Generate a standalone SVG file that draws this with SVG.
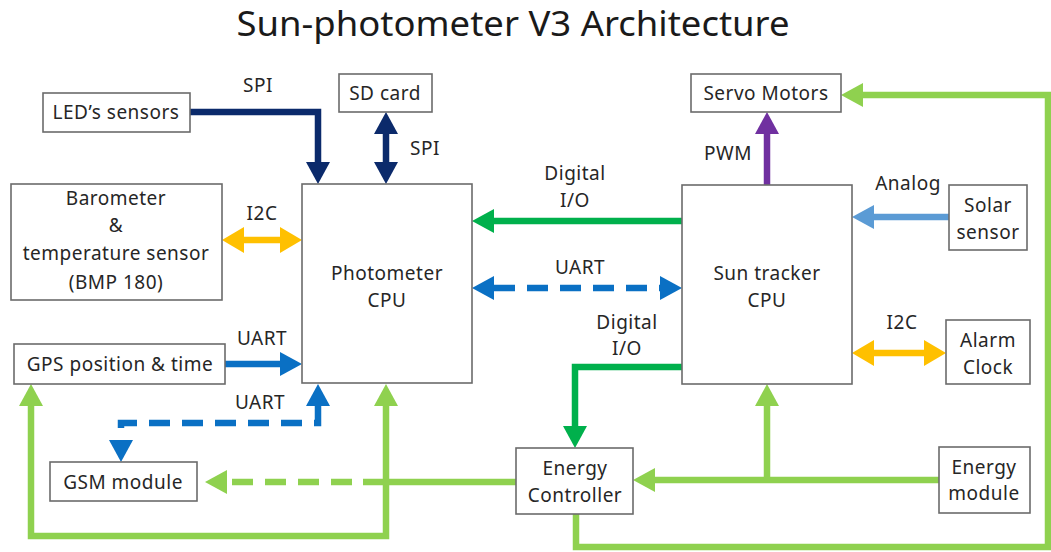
<svg xmlns="http://www.w3.org/2000/svg" width="1051" height="552" viewBox="0 0 1051 552">
  <style>
    .box { fill: #ffffff; stroke: #6b6b6b; stroke-width: 1.6; }
    .t { font-family: "Noto Sans", "Open Sans", sans-serif; font-size: 19px; letter-spacing: 0.5px; fill: #262626; text-anchor: middle; }
    .title { font-family: "Noto Sans", "Open Sans", sans-serif; font-size: 34px; fill: #1a1a1a; text-anchor: middle; }
    .w { fill: none; stroke-width: 6.5; stroke-linejoin: miter; }
    .navy { stroke: #0b2a6b; }
    .blue { stroke: #0a70c4; }
    .gold { stroke: #ffc000; }
    .green { stroke: #00b04c; }
    .lime { stroke: #8fd14f; }
    .purple { stroke: #7030a0; }
    .sky { stroke: #5b9bd5; }
    .dash { stroke-dasharray: 21 12; }
  </style>
  <defs>
    <marker id="aNavy" markerUnits="userSpaceOnUse" markerWidth="24" markerHeight="24" viewBox="0 0 22 24" refX="0" refY="12" orient="auto-start-reverse"><path d="M0,0 L22,12 L0,24 z" fill="#0b2a6b"/></marker>
    <marker id="aBlue" markerUnits="userSpaceOnUse" markerWidth="24" markerHeight="24" viewBox="0 0 22 24" refX="0" refY="12" orient="auto-start-reverse"><path d="M0,0 L22,12 L0,24 z" fill="#0a70c4"/></marker>
    <marker id="aGold" markerUnits="userSpaceOnUse" markerWidth="24" markerHeight="26" viewBox="0 0 22 26" refX="0" refY="13" orient="auto-start-reverse"><path d="M0,0 L22,13 L0,26 z" fill="#ffc000"/></marker>
    <marker id="aGreen" markerUnits="userSpaceOnUse" markerWidth="24" markerHeight="24" viewBox="0 0 22 24" refX="0" refY="12" orient="auto-start-reverse"><path d="M0,0 L22,12 L0,24 z" fill="#00b04c"/></marker>
    <marker id="aLime" markerUnits="userSpaceOnUse" markerWidth="24" markerHeight="24" viewBox="0 0 22 24" refX="0" refY="12" orient="auto-start-reverse"><path d="M0,0 L22,12 L0,24 z" fill="#8fd14f"/></marker>
    <marker id="aPurple" markerUnits="userSpaceOnUse" markerWidth="24" markerHeight="24" viewBox="0 0 22 24" refX="0" refY="12" orient="auto-start-reverse"><path d="M0,0 L22,12 L0,24 z" fill="#7030a0"/></marker>
    <marker id="aSky" markerUnits="userSpaceOnUse" markerWidth="24" markerHeight="24" viewBox="0 0 22 24" refX="0" refY="12" orient="auto-start-reverse"><path d="M0,0 L22,12 L0,24 z" fill="#5b9bd5"/></marker>
  </defs>

  <rect width="1051" height="552" fill="#ffffff"/>

  <text class="title" x="513" y="36" textLength="553" lengthAdjust="spacingAndGlyphs">Sun-photometer V3 Architecture</text>

  <!-- connectors -->
  <g id="connectors">
    <!-- power distribution (light green) -->
    <path class="w lime" d="M576,514 V547 H1048 V95 H863" marker-end="url(#aLime)"/>
    <path class="w lime" d="M31,406 V536 H386 V406" marker-start="url(#aLime)" marker-end="url(#aLime)"/>
    <path class="w lime" d="M939,480 H655" marker-end="url(#aLime)"/>
    <path class="w lime" d="M767,480 V406" marker-end="url(#aLime)"/>
    <path class="w lime" d="M516,482 H363"/>
    <path class="w lime dash" d="M352,482 H227" marker-end="url(#aLime)"/>

    <!-- SPI buses -->
    <path class="w navy" d="M190,112 H318 V162" marker-end="url(#aNavy)"/>
    <path class="w navy" d="M386,134 V162" marker-start="url(#aNavy)" marker-end="url(#aNavy)"/>

    <!-- I2C buses -->
    <path class="w gold" d="M244,240 H280" marker-start="url(#aGold)" marker-end="url(#aGold)"/>
    <path class="w gold" d="M874,353 H924" marker-start="url(#aGold)" marker-end="url(#aGold)"/>

    <!-- digital I/O -->
    <path class="w green" d="M682,221 H494" marker-end="url(#aGreen)"/>
    <path class="w green" d="M682,367 H575 V426" marker-end="url(#aGreen)"/>

    <!-- UART links -->
    <path class="w blue dash" d="M494,288 H660" marker-start="url(#aBlue)" marker-end="url(#aBlue)"/>
    <path class="w blue" d="M225,364 H280" marker-end="url(#aBlue)"/>
    <path class="w blue dash" d="M318,406 V423 H121 V440" marker-start="url(#aBlue)" marker-end="url(#aBlue)"/>

    <!-- PWM and analog -->
    <path class="w purple" d="M767,185 V134" marker-end="url(#aPurple)"/>
    <path class="w sky" d="M949,217 H874" marker-end="url(#aSky)"/>

    <!-- link labels -->
    <text class="t" x="258" y="92">SPI</text>
    <text class="t" x="425" y="155">SPI</text>
    <text class="t" x="262" y="220">I2C</text>
    <text class="t" x="575" y="180">Digital</text>
    <text class="t" x="575" y="207">I/O</text>
    <text class="t" x="580" y="274">UART</text>
    <text class="t" x="728" y="160">PWM</text>
    <text class="t" x="908" y="190">Analog</text>
    <text class="t" x="902" y="329">I2C</text>
    <text class="t" x="627" y="329">Digital</text>
    <text class="t" x="627" y="355">I/O</text>
    <text class="t" x="262" y="345">UART</text>
    <text class="t" x="260" y="409">UART</text>
  </g>

  <!-- nodes -->
  <g id="led-sensors">
    <rect class="box" x="43" y="93" width="147" height="39"/>
    <text class="t" x="116" y="119">LED’s sensors</text>
  </g>
  <g id="barometer">
    <rect class="box" x="11" y="184" width="211" height="116"/>
    <text class="t" x="116" y="205">Barometer</text>
    <text class="t" x="116" y="232">&amp;</text>
    <text class="t" x="116" y="260">temperature sensor</text>
    <text class="t" x="116" y="289">(BMP 180)</text>
  </g>
  <g id="sd-card">
    <rect class="box" x="339" y="74" width="93" height="38"/>
    <text class="t" x="385" y="100">SD card</text>
  </g>
  <g id="photometer-cpu">
    <rect class="box" x="302" y="184" width="170" height="199"/>
    <text class="t" x="387" y="280">Photometer</text>
    <text class="t" x="387" y="307">CPU</text>
  </g>
  <g id="servo-motors">
    <rect class="box" x="691" y="74" width="150" height="38"/>
    <text class="t" x="766" y="100">Servo Motors</text>
  </g>
  <g id="sun-tracker-cpu">
    <rect class="box" x="682" y="185" width="170" height="199"/>
    <text class="t" x="767" y="280">Sun tracker</text>
    <text class="t" x="767" y="307">CPU</text>
  </g>
  <g id="solar-sensor">
    <rect class="box" x="949" y="185" width="78" height="65"/>
    <text class="t" x="988" y="212">Solar</text>
    <text class="t" x="988" y="239">sensor</text>
  </g>
  <g id="alarm-clock">
    <rect class="box" x="946" y="320" width="84" height="64"/>
    <text class="t" x="988" y="347">Alarm</text>
    <text class="t" x="988" y="374">Clock</text>
  </g>
  <g id="gps">
    <rect class="box" x="14" y="344" width="211" height="40"/>
    <text class="t" x="120" y="371">GPS position &amp; time</text>
  </g>
  <g id="gsm-module">
    <rect class="box" x="50" y="462" width="147" height="39"/>
    <text class="t" x="123" y="489">GSM module</text>
  </g>
  <g id="energy-controller">
    <rect class="box" x="516" y="448" width="117" height="66"/>
    <text class="t" x="575" y="475">Energy</text>
    <text class="t" x="575" y="502">Controller</text>
  </g>
  <g id="energy-module">
    <rect class="box" x="939" y="447" width="91" height="66"/>
    <text class="t" x="984" y="474">Energy</text>
    <text class="t" x="984" y="500">module</text>
  </g>
</svg>
